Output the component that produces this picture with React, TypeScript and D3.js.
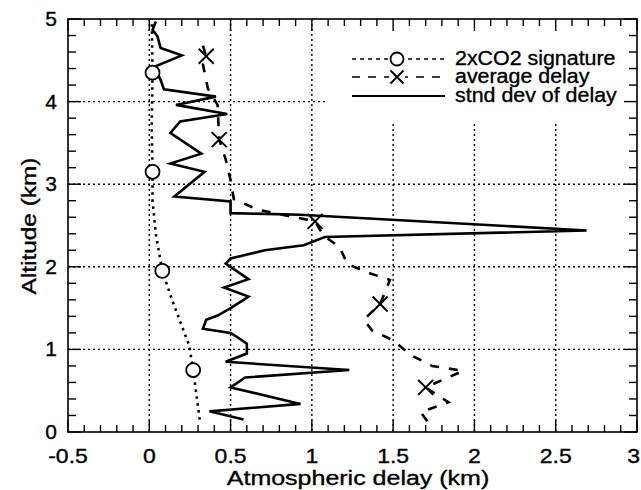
import React from "react";
import * as d3 from "d3";

// ---- Data ----
// 2xCO2 signature (dotted)
const co2Value = [0.31, 0.27, 0.245, 0.14, 0.08, 0.04, 0.02, 0.02, 0.015, 0.02, 0.015];
const co2Alt = [0.15, 0.75, 1.05, 1.6, 1.95, 2.4, 2.8, 3.15, 3.7, 4.35, 5.0];
const co2MarkerValue = [0.27, 0.08, 0.02, 0.02];
const co2MarkerAlt = [0.75, 1.95, 3.15, 4.35];

// average delay (dashed)
const avgValue = [1.71, 1.67, 1.84, 1.7, 1.93, 1.74, 1.61, 1.5, 1.37, 1.32, 1.42, 1.48, 1.36, 1.22, 1.17, 1.07, 1.02, 0.67, 0.52, 0.5, 0.47, 0.43, 0.42, 0.36, 0.33, 0.35, 0.32];
const avgAlt = [0.13, 0.24, 0.36, 0.54, 0.74, 0.8, 0.93, 1.11, 1.23, 1.36, 1.55, 1.84, 1.92, 2.03, 2.24, 2.38, 2.55, 2.69, 2.82, 3.05, 3.3, 3.54, 3.96, 4.16, 4.45, 4.55, 4.74];
const avgMarkerValue = [1.7, 1.42, 1.02, 0.43, 0.35];
const avgMarkerAlt = [0.54, 1.55, 2.55, 3.54, 4.55];

// standard deviation of delay (solid)
const sdValue = [0.58, 0.37, 0.93, 0.5, 0.59, 1.23, 0.47, 0.6, 0.6, 0.54, 0.5, 0.33, 0.35, 0.42, 0.5, 0.58, 0.61, 0.46, 0.61, 0.47, 0.5, 0.71, 0.95, 1.08, 2.69, 0.93, 0.5, 0.5, 0.154, 0.34, 0.13, 0.32, 0.13, 0.19, 0.48, 0.164, 0.41, 0.09, 0.07, 0.03, 0.2, 0.07, 0.05, 0.02, 0.04];
const sdAlt = [0.15, 0.25, 0.34, 0.54, 0.66, 0.75, 0.85, 0.95, 1.07, 1.15, 1.2, 1.25, 1.36, 1.41, 1.5, 1.6, 1.64, 1.75, 1.85, 2.04, 2.1, 2.2, 2.26, 2.36, 2.44, 2.63, 2.65, 2.79, 2.85, 3.15, 3.25, 3.37, 3.62, 3.76, 3.85, 3.96, 4.06, 4.15, 4.26, 4.42, 4.56, 4.65, 4.79, 4.87, 4.97];

// axes
const xTickValues = [-0.5, 0, 0.5, 1, 1.5, 2, 2.5, 3];
const xTickLabels = ["-0.5", "0", "0.5", "1", "1.5", "2", "2.5", "3"];
const yTickValues = [0, 1, 2, 3, 4, 5];
const yTickLabels = ["0", "1", "2", "3", "4", "5"];
const xGridValues = [0, 0.5, 1, 1.5, 2, 2.5];
const yGridValues = [1, 2, 3, 4];
const legendLabels = ["2xCO2 signature", "average delay", "stnd dev of delay"];

const W = 641;
const H = 490;
const left = 68;
const right = 637;
const top = 19;
const bottom = 432;
const FONT = "'Liberation Sans', Arial, Helvetica, sans-serif";

const x = d3.scaleLinear().domain([-0.5, 3]).range([left, right]);
const y = d3.scaleLinear().domain([0, 5]).range([bottom, top]);

const line = d3
  .line<[number, number]>()
  .x((d) => x(d[0]))
  .y((d) => y(d[1]));

const zip = (v: number[], a: number[]) => v.map((val, i) => [val, a[i]] as [number, number]);

function Circle({ cx, cy, r = 7 }: { cx: number; cy: number; r?: number }) {
  return <circle cx={cx} cy={cy} r={r} fill="white" stroke="black" strokeWidth={1.8} />;
}
function Cross({ cx, cy, s = 7.5 }: { cx: number; cy: number; s?: number }) {
  return (
    <g stroke="black" strokeWidth={2}>
      <line x1={cx - s} y1={cy - s} x2={cx + s} y2={cy + s} />
      <line x1={cx - s} y1={cy + s} x2={cx + s} y2={cy - s} />
    </g>
  );
}

function SText({
  x: tx,
  y: ty,
  sx = 1,
  rot = 0,
  anchor = "start",
  size = 20,
  children,
}: {
  x: number;
  y: number;
  sx?: number;
  rot?: number;
  anchor?: string;
  size?: number;
  children: React.ReactNode;
}) {
  return (
    <text
      transform={`translate(${tx},${ty}) rotate(${rot}) scale(${sx},1)`}
      textAnchor={anchor as any}
      fontFamily={FONT}
      fontSize={size}
      fill="black"
      stroke="black"
      strokeWidth={0.35}
    >
      {children}
    </text>
  );
}

export default function App() {
  const xMinor = d3.range(-0.5, 3.0001, 0.1).map((v) => Math.round(v * 10) / 10);
  const yMinor = d3.range(0, 5.0001, 0.2).map((v) => Math.round(v * 10) / 10);
  const isMajorX = (v: number) => Math.abs(v * 2 - Math.round(v * 2)) < 1e-6;
  const isMajorY = (v: number) => Math.abs(v - Math.round(v)) < 1e-6;

  const co2 = zip(co2Value, co2Alt);
  const avg = zip(avgValue, avgAlt);
  const sd = zip(sdValue, sdAlt);

  const legX1 = 352;
  const legX2 = 445;
  const legMid = 397;
  const legText = 455;
  const legRows = [59, 77, 96];

  return (
    <svg
      width={W}
      height={H}
      style={{ position: "fixed", left: 0, top: 0, display: "block", background: "white" }}
    >
      <rect x={0} y={0} width={W} height={H} fill="white" />
      {/* grid */}
      <g stroke="black" strokeWidth={1.4} strokeDasharray="2,3">
        {xGridValues.map((v) => (
          <line key={"gx" + v} x1={x(v)} x2={x(v)} y1={top} y2={bottom} />
        ))}
        {yGridValues.map((v) => (
          <line key={"gy" + v} x1={left} x2={right} y1={y(v)} y2={y(v)} />
        ))}
      </g>
      {/* legend background */}
      <rect x={325} y={top + 1} width={right - 326} height={101} fill="white" />

      {/* curves */}
      <path d={line(co2) || ""} fill="none" stroke="black" strokeWidth={2.6} strokeDasharray="2.5,4.5" />
      <path d={line(avg) || ""} fill="none" stroke="black" strokeWidth={2.6} strokeDasharray="9,10" />
      <path d={line(sd) || ""} fill="none" stroke="black" strokeWidth={2.6} strokeLinejoin="miter" />

      {/* markers */}
      {co2MarkerValue.map((v, i) => (
        <Circle key={"c" + i} cx={x(v)} cy={y(co2MarkerAlt[i])} />
      ))}
      {avgMarkerValue.map((v, i) => (
        <Cross key={"x" + i} cx={x(v)} cy={y(avgMarkerAlt[i])} />
      ))}

      {/* frame */}
      <rect x={left} y={top} width={right - left} height={bottom - top} fill="none" stroke="black" strokeWidth={1.6} />

      {/* ticks */}
      <g stroke="black" strokeWidth={1.4}>
        {xMinor.map((v) => {
          const len = isMajorX(v) ? 12 : 7;
          return (
            <g key={"tx" + v}>
              <line x1={x(v)} x2={x(v)} y1={bottom} y2={bottom - len} />
              <line x1={x(v)} x2={x(v)} y1={top} y2={top + len} />
            </g>
          );
        })}
        {yMinor.map((v) => {
          const len = isMajorY(v) ? 13 : 8;
          return (
            <g key={"ty" + v}>
              <line x1={left} x2={left + len} y1={y(v)} y2={y(v)} />
              <line x1={right} x2={right - len} y1={y(v)} y2={y(v)} />
            </g>
          );
        })}
      </g>

      {/* tick labels */}
      {xTickValues.map((v, i) => {
        const last = i === xTickValues.length - 1;
        return (
          <SText
            key={"xl" + v}
            x={last ? W - 1 : x(v)}
            y={463}
            anchor={last ? "end" : "middle"}
            sx={1.15}
          >
            {xTickLabels[i]}
          </SText>
        );
      })}
      {yTickValues.map((v, i) => (
        <SText key={"yl" + v} x={57} y={y(v) + 7} anchor="end" sx={1.05}>
          {yTickLabels[i]}
        </SText>
      ))}

      {/* axis titles */}
      <SText x={358} y={485} anchor="middle" sx={1.25}>
        Atmospheric delay (km)
      </SText>
      <SText x={36} y={226} anchor="middle" rot={-90} sx={1.22}>
        Altitude (km)
      </SText>

      {/* legend */}
      <line x1={legX1} x2={legX2} y1={legRows[0]} y2={legRows[0]} stroke="black" strokeWidth={1.6} strokeDasharray="4,4" />
      <Circle cx={legMid} cy={legRows[0]} r={6.5} />
      <line x1={legX1} x2={legX2} y1={legRows[1]} y2={legRows[1]} stroke="black" strokeWidth={1.6} strokeDasharray="8,8" />
      <rect x={legMid - 8} y={legRows[1] - 8} width={16} height={16} fill="white" />
      <Cross cx={legMid} cy={legRows[1]} s={6.5} />
      <line x1={legX1} x2={legX2} y1={legRows[2]} y2={legRows[2]} stroke="black" strokeWidth={1.8} />
      {legendLabels.map((t, i) => (
        <SText key={"lg" + i} x={legText} y={legRows[i] + 6} sx={1.07}>
          {t}
        </SText>
      ))}
    </svg>
  );
}
